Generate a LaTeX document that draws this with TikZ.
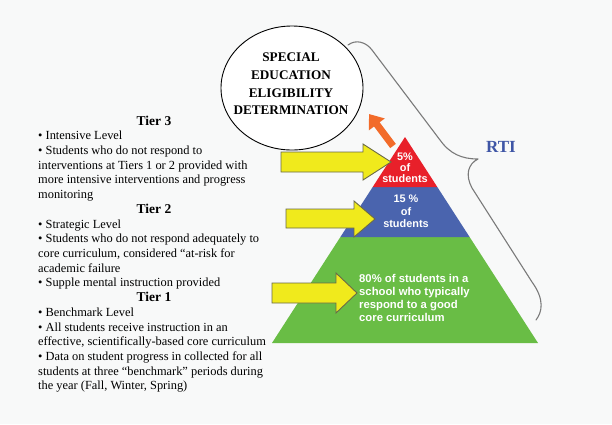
\documentclass[tikz,border=0pt]{standalone}
\usepackage{fontspec}
\setmainfont{Liberation Serif}
\newfontfamily\pyrfont{Liberation Sans}
\usetikzlibrary{shapes.geometric,arrows.meta}
\definecolor{bgc}{HTML}{F8F9F9}
\definecolor{redt}{HTML}{E8202A}
\definecolor{bluet}{HTML}{4A64AE}
\definecolor{greent}{HTML}{69BD45}
\definecolor{yell}{HTML}{F0EA1C}
\definecolor{yedge}{HTML}{6A6A48}
\definecolor{orng}{HTML}{F26B2A}
\definecolor{rtic}{HTML}{3F56A6}
\definecolor{bracec}{HTML}{7A7A7A}
\tikzset{
  yarrow/.style={fill=yell, draw=yedge, line width=0.9pt, line join=miter},
  leftline/.style={anchor=base west, inner sep=0pt, font=\fontsize{12.4}{14.7}\selectfont},
  tierhead/.style={anchor=base, inner sep=0pt, font=\fontsize{13.5}{14.7}\selectfont\bfseries},
  pyrtext/.style={text=white, inner sep=0pt, font=\pyrfont\bfseries},
}
\begin{document}
\begin{tikzpicture}[x=1pt,y=-1pt]
\fill[bgc] (0,0) rectangle (612,424);
\useasboundingbox (0,0) rectangle (612,424);

% brace
\draw[bracec, line width=1.1pt, line cap=round, line join=round]
  (348,45) .. controls (356,39) and (366,42) .. (372,50)
  -- (440,140) .. controls (450,154) and (462,159) .. (478,159)
  .. controls (468,164) and (465,175) .. (472,188)
  -- (532,282) .. controls (545,300) and (542,312) .. (536,320);
\node[text=rtic, font=\fontsize{17}{20}\selectfont\bfseries] (rti) at (501,147) {RTI};

% pyramid
\fill[greent] (340.4,237) -- (469.6,237) -- (538,343) -- (272,343) -- cycle;
\fill[bluet] (372.7,187) -- (437.3,187) -- (469.6,237) -- (340.4,237) -- cycle;
\fill[redt] (405,137) -- (437.3,187) -- (372.7,187) -- cycle;

\node[pyrtext, align=center, font=\pyrfont\bfseries\fontsize{10.9}{11}\selectfont] (red) at (405,167.5) {5\%\\of\\students};
\node[pyrtext, align=center, font=\pyrfont\bfseries\fontsize{10.9}{12.5}\selectfont] (blue) at (406,211.5) {15 \%\\of\\students};
\node[pyrtext, align=left, anchor=west, font=\pyrfont\bfseries\fontsize{11.3}{13}\selectfont] (green) at (359,297.5) {80\% of students in a\\school who typically\\respond to a good\\core curriculum};

% ellipse
\node[ellipse, draw, fill=white, line width=0.9pt, minimum width=142pt, minimum height=124pt] (sped) at (292,88) {};
\node[align=center, inner sep=0pt, font=\fontsize{13.2}{17.7}\selectfont\bfseries] (spedtext) at (291,84) {SPECIAL\\EDUCATION\\ELIGIBILITY\\DETERMINATION};

% orange arrow
\draw[orng, line width=7pt, -{Triangle[length=13pt,width=19pt]}] (393,146) -- (369,114);

% yellow arrows
\draw[yarrow] (281,152) -- (363,152) -- (363,144) -- (391,162) -- (363,180) -- (363,172) -- (281,172) -- cycle;
\draw[yarrow] (286,209) -- (354,209) -- (354,201) -- (375,219) -- (354,237) -- (354,228) -- (286,228) -- cycle;
\draw[yarrow] (272,283) -- (336,283) -- (336,273) -- (357,293) -- (336,313) -- (336,303) -- (272,303) -- cycle;

% left text
\node[tierhead] (h3) at (154,125) {Tier 3};
\node[tierhead] (h2) at (154,213.3) {Tier 2};
\node[tierhead] (h1) at (154,301.6) {Tier 1};
\foreach \n/\t in {
  1/{• Intensive Level},
  2/{• Students who do not respond to},
  3/{interventions at Tiers 1 or 2 provided with},
  4/{more intensive interventions and progress},
  5/{monitoring},
  7/{• Strategic Level},
  8/{• Students who do not respond adequately to},
  9/{core curriculum, considered “at-risk for},
  10/{academic failure},
  11/{• Supple mental instruction provided},
  13/{• Benchmark Level},
  14/{• All students receive instruction in an},
  15/{effective, scientifically-based core curriculum},
  16/{• Data on student progress in collected for all},
  17/{students at three “benchmark” periods during},
  18/{the year (Fall, Winter, Spring)}}
  \node[leftline] (t\n) at (38,125+14.72*\n) {\t};
\end{tikzpicture}
\end{document}
